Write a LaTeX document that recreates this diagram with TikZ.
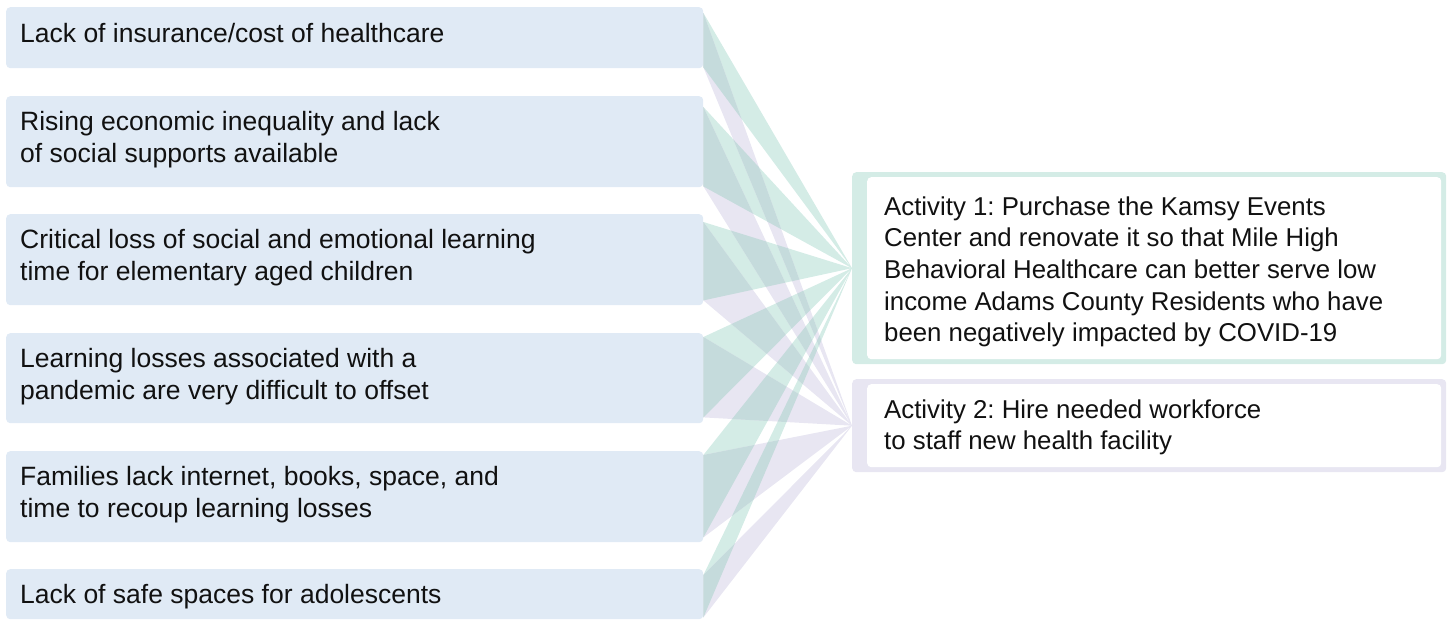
\documentclass[tikz,border=0pt]{standalone}
\usepackage{fontspec}
\setmainfont{Liberation Sans}
\usetikzlibrary{calc}
\frenchspacing
\definecolor{boxblue}{HTML}{E0EAF5}
\definecolor{wgreen}{HTML}{D4ECE6}
\definecolor{wpurple}{HTML}{E8E6F2}
\definecolor{wdark}{HTML}{C5DBDC}
\definecolor{ink}{HTML}{111111}
\tikzset{
  leftbox/.style={fill=boxblue, rounded corners=4pt, inner sep=0pt, anchor=north west,
    text=ink, font=\fontsize{26.5}{32}\selectfont},
  actbox/.style={fill=#1, rounded corners=4pt, inner sep=0pt, anchor=north west,
    text=ink, font=\fontsize{25.8}{31.7}\selectfont,
    path picture={\fill[white] ($(path picture bounding box.north west)+(15,-5)$)
      rectangle ($(path picture bounding box.south east)+(-5,5)$);}},
}
\begin{document}
\begin{tikzpicture}[x=1pt,y=1pt]
\useasboundingbox (0,0) rectangle (1453,-620);
% cause boxes
\node[leftbox] (p1) at (6,-7) {\parbox[t][61pt][t]{697pt}{\leftskip=14pt\rule{0pt}{35.5pt}Lack of insurance/cost of healthcare}};
\node[leftbox] (p2) at (6,-96) {\parbox[t][91pt][t]{697pt}{\leftskip=14pt\rule{0pt}{34.5pt}Rising economic inequality and lack\\of social supports available}};
\node[leftbox] (p3) at (6,-214) {\parbox[t][91pt][t]{697pt}{\leftskip=14pt\rule{0pt}{34.5pt}Critical loss of social and emotional learning\\time for elementary aged children}};
\node[leftbox] (p4) at (6,-333) {\parbox[t][90pt][t]{697pt}{\leftskip=14pt\rule{0pt}{34.5pt}Learning losses associated with a\\pandemic are very difficult to offset}};
\node[leftbox] (p5) at (6,-451) {\parbox[t][91pt][t]{697pt}{\leftskip=14pt\rule{0pt}{34.5pt}Families lack internet, books, space, and\\time to recoup learning losses}};
\node[leftbox] (p6) at (6,-569) {\parbox[t][50pt][t]{697pt}{\leftskip=14pt\rule{0pt}{34pt}Lack of safe spaces for adolescents}};
% activity boxes
\node[actbox=wgreen] (a1) at (852,-172) {\parbox[t][192pt][t]{594pt}{\leftskip=32pt\rule{0pt}{43pt}Activity 1: Purchase the Kamsy Events\\Center and renovate it so that Mile High\\Behavioral Healthcare can better serve low\\income Adams County Residents who have\\been negatively impacted by COVID-19}};
\node[actbox=wpurple] (a2) at (852,-379) {\parbox[t][93pt][t]{594pt}{\leftskip=32pt\rule{0pt}{39pt}Activity 2: Hire needed workforce\\to staff new health facility}};
% wedge bases
\foreach \i/\t/\b in {1/6/1,2/11/1,3/8/5,4/4/6,5/4/5,6/6/2}{
  \coordinate (t\i) at ($(p\i.north east)+(0,-\t)$);
  \coordinate (b\i) at ($(p\i.south east)+(0,\b)$);
}
% wedges
\fill[wgreen] \foreach \i in {1,...,6}{(t\i) -- (b\i) -- (a1.west) -- cycle};
\fill[wpurple] \foreach \i in {1,...,6}{(t\i) -- (b\i) -- (a2.west) -- cycle};
\begin{scope}
  \clip \foreach \i in {1,...,6}{(t\i) -- (b\i) -- (a2.west) -- cycle};
  \fill[wdark] \foreach \i in {1,...,6}{(t\i) -- (b\i) -- (a1.west) -- cycle};
\end{scope}
\end{tikzpicture}
\end{document}
